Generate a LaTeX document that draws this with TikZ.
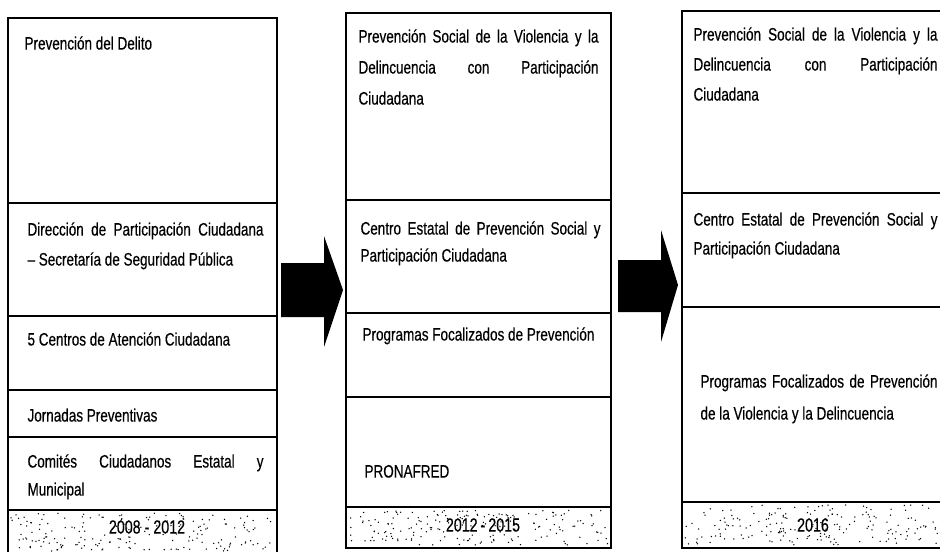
\documentclass[tikz,border=0pt]{standalone}
\usepackage{fontspec}
\setmainfont{Liberation Sans}[FakeStretch=0.75,FakeBold=0.4]
\begin{document}
\begin{tikzpicture}[x=1pt,y=-1pt,line width=1.1pt,
  txt/.style={anchor=north west,inner sep=0pt,text width=#1,align=justify,
    font=\fontsize{18}{30}\selectfont},
  yr/.style={inner sep=0pt,font=\fontsize{19}{20}\selectfont},
  bigarrow/.style={fill=black,draw=none}]
\useasboundingbox (0,0) rectangle (940,552);

% column 1
\draw (8,552) -- (8,18) -- (277,18) -- (277,552);
\foreach \y in {203,316,390,437,510} \draw (8,\y) -- (277,\y);
% column 2
\draw (346,13) rectangle (611,548);
\foreach \y in {200,313,397,507} \draw (346,\y) -- (611,\y);
% column 3
\draw (940,11) -- (682,11) -- (682,548) -- (940,548);
\foreach \y in {193,307,502} \draw (682,\y) -- (940,\y);

% stippled year bands
\pgfmathsetseed{7}
\foreach \xa/\xb/\ya/\yb in {11/274/513/551, 349/608/510/545, 685/938/505/545}{
  \foreach \k in {1,...,190}{
    \pgfmathsetmacro\px{\xa+rnd*(\xb-\xa)}
    \pgfmathsetmacro\py{\ya+rnd*(\yb-\ya)}
    \fill (\px,\py) circle (0.75pt);
  }
}

% arrows
\fill[bigarrow] (281,263) -- (324,263) -- (324,236) -- (343,290) -- (324,347) -- (324,317) -- (281,317) -- cycle;
\fill[bigarrow] (618,260) -- (661,260) -- (661,230) -- (678,285) -- (661,342) -- (661,312) -- (618,312) -- cycle;

% column 1 texts
\node[txt=236pt] (c1a) at (24,35) {\rule{0pt}{14pt}Prevención del Delito};
\node[txt=236pt] (c1b) at (27,221) {\rule{0pt}{14pt}Dirección de Participación Ciudadana\linebreak – Secretaría de Seguridad Pública};
\node[txt=236pt] (c1c) at (27,331) {\rule{0pt}{14pt}5 Centros de Atención Ciudadana};
\node[txt=236pt] (c1d) at (27,407) {\rule{0pt}{14pt}Jornadas Preventivas};
\node[txt=236pt,font=\fontsize{18}{28}\selectfont] (c1e) at (27,453) {\rule{0pt}{14pt}Comités Ciudadanos Estatal y\linebreak Municipal};
\node[yr] (y1) at (147,527) {2008\hspace{4pt}-\hspace{4pt}2012};

% column 2 texts
\node[txt=240pt,font=\fontsize{18}{31}\selectfont] (c2a) at (358,28) {\rule{0pt}{14pt}Prevención Social de la Violencia y la\linebreak Delincuencia con Participación\linebreak Ciudadana};
\node[txt=240pt,font=\fontsize{18}{27}\selectfont] (c2b) at (360,220) {\rule{0pt}{14pt}Centro Estatal de Prevención Social y\linebreak Participación Ciudadana};
\node[txt=240pt] (c2c) at (362,326) {\rule{0pt}{14pt}Programas Focalizados de Prevención};
\node[txt=240pt] (c2d) at (364,463) {\rule{0pt}{14pt}PRONAFRED};
\node[yr] (y2) at (483,525) {2012\hspace{3pt}-\hspace{3pt}2015};

% column 3 texts
\node[txt=244pt] (c3a) at (693,26) {\rule{0pt}{14pt}Prevención Social de la Violencia y la\linebreak Delincuencia con Participación\linebreak Ciudadana};
\node[txt=244pt,font=\fontsize{18}{29}\selectfont] (c3b) at (693,211) {\rule{0pt}{14pt}Centro Estatal de Prevención Social y\linebreak Participación Ciudadana};
\node[txt=237pt,font=\fontsize{18}{32}\selectfont] (c3c) at (700,373) {\rule{0pt}{14pt}Programas Focalizados de Prevención\linebreak de la Violencia y la Delincuencia};
\node[yr] (y3) at (813,525) {2016};
\end{tikzpicture}
\end{document}
